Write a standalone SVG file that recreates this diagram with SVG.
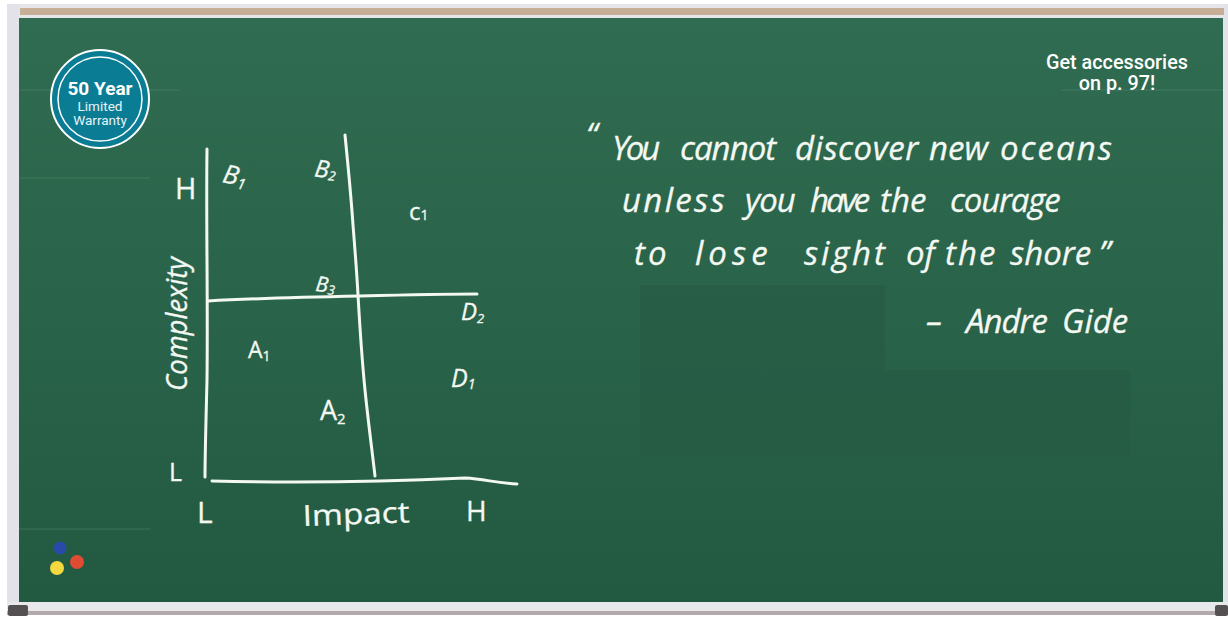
<svg xmlns="http://www.w3.org/2000/svg" width="1228" height="620" viewBox="0 0 1228 620">
<style>
.c{fill:none;stroke:#f4f8f2;stroke-width:3;stroke-linecap:round;stroke-linejoin:round}
.h{font-family:"Open Sans","Liberation Sans",sans-serif;fill:#f4f8f2;stroke:#f4f8f2;stroke-width:.3}
.q{font-size:33px;font-style:italic}
.b{font-family:Roboto,"Liberation Sans",sans-serif;text-anchor:middle}
.f{stroke:#5f8f78;stroke-width:1;opacity:.4}
</style>
<defs>
<linearGradient id="board" x1="0" y1="0" x2="0" y2="1">
<stop offset="0" stop-color="#306c51"/>
<stop offset="1" stop-color="#225a41"/>
</linearGradient>
</defs>
<rect width="1228" height="620" fill="#ffffff"/>
<g id="frame">
<rect x="7" y="4" width="1221" height="14" fill="#e6e5e9"/>
<rect x="7" y="4" width="12" height="604" fill="#e3e2e8"/>
<rect x="1223" y="4" width="5" height="604" fill="#e3e2e8"/>
<rect x="20" y="8" width="1204" height="7" fill="#c7af97"/>
<rect x="19" y="18" width="1204" height="584" fill="url(#board)"/>
<rect x="7" y="602" width="1221" height="9" fill="#e9e9ec"/>
<rect x="7" y="611" width="1221" height="4" fill="#b0aaac"/>
<rect x="8" y="605" width="20" height="11" rx="2" fill="#555052"/>
<rect x="1215" y="605" width="13" height="11" rx="2" fill="#555052"/>
</g>
<g id="patches">
<rect x="640" y="285" width="245" height="85" fill="#275a43" opacity=".55"/>
<rect x="640" y="370" width="490" height="85" fill="#275a43" opacity=".55"/>
<line class="f" x1="19" y1="90" x2="180" y2="90"/>
<line class="f" x1="1061" y1="90" x2="1223" y2="90"/>
<line class="f" x1="19" y1="178" x2="150" y2="178"/>
<line class="f" x1="19" y1="529" x2="150" y2="529"/>
</g>
<g id="badge">
<circle cx="100" cy="99" r="49" fill="#0a7d95" stroke="#ffffff" stroke-width="2"/>
<circle cx="100" cy="99" r="42" fill="none" stroke="#ffffff" stroke-width="1.5"/>
<text class="b" x="100" y="95" font-size="19" font-weight="700" fill="#ffffff">50 Year</text>
<text class="b" x="100" y="111" font-size="13.5" fill="#e8f3f5">Limited</text>
<text class="b" x="100" y="125" font-size="13.5" fill="#e8f3f5">Warranty</text>
</g>
<g id="accessories">
<text class="b" x="1117" y="69" font-size="19.8" font-weight="500" fill="#ffffff">Get accessories</text>
<text class="b" x="1117" y="90" font-size="19.8" font-weight="500" fill="#ffffff">on p. 97!</text>
</g>
<g id="connectors">
<path class="c" d="M207 149 C206 220 208 300 207 380 C206 420 205 455 205 477"/>
<path class="c" d="M345 135 C348 165 351 195 353 225 C355 250 357 275 358 295 C360 330 362 360 365 390 C368 420 372 450 375 476"/>
<path class="c" d="M208 301 C260 298 310 297 360 296 C400 295 440 294 477 294"/>
<path class="c" d="M212 481 C300 483 400 481 465 478 C485 479 495 483 517 484"/>
</g>
<g id="labels">
<text class="h" transform="rotate(12 222 180)" x="222" y="182" font-size="26" font-style="italic">B<tspan font-size="15" dy="3">1</tspan></text>
<text class="h" transform="rotate(8 313 175)" x="314" y="176" font-size="24" font-style="italic">B<tspan font-size="13" dy="2">2</tspan></text>
<text class="h" transform="rotate(6 315 291)" x="315" y="291" font-size="21" font-style="italic">B<tspan font-size="13" dy="2">3</tspan></text>
<text class="h" x="409" y="220" font-size="24">c<tspan font-size="14">1</tspan></text>
<text class="h" x="461" y="320" font-size="24" font-style="italic">D<tspan font-size="13" dy="3">2</tspan></text>
<text class="h" x="451" y="387" font-size="25" font-style="italic">D<tspan font-size="14" dy="2">1</tspan></text>
<text class="h" x="248" y="358" font-size="23">A<tspan font-size="14" dy="3">1</tspan></text>
<text class="h" x="320" y="420" font-size="27">A<tspan font-size="15" dy="4">2</tspan></text>
<text class="h" x="175" y="199" font-size="29">H</text>
<text class="h" x="169" y="481" font-size="25">L</text>
<text class="h" x="197" y="523" font-size="30">L</text>
<text class="h" x="466" y="521" font-size="28">H</text>
<text class="h" x="303" y="526" font-size="29" textLength="107" lengthAdjust="spacingAndGlyphs" transform="rotate(-2 303 526)">Impact</text>
<text class="h" transform="translate(187 391) rotate(-90)" font-size="29" font-style="italic" textLength="134" lengthAdjust="spacingAndGlyphs">Complexity</text>
</g>
<g id="quote">
<text class="h q"><tspan x="586" y="147">“</tspan><tspan x="612" y="160" letter-spacing="-3">You </tspan><tspan x="680" letter-spacing="-1">cannot </tspan><tspan x="795" letter-spacing=".5">discover </tspan><tspan x="929">new </tspan><tspan x="1000" letter-spacing="2">oceans</tspan></text>
<text class="h q" y="212"><tspan x="622" letter-spacing="2.3">unless </tspan><tspan x="745" letter-spacing="-1">you </tspan><tspan x="810" letter-spacing="-3">have </tspan><tspan x="880">the </tspan><tspan x="950" letter-spacing="-1.2">courage</tspan></text>
<text class="h q" y="265"><tspan x="634" letter-spacing="3">to </tspan><tspan x="695" letter-spacing="5">lose </tspan><tspan x="804" letter-spacing="2.8">sight </tspan><tspan x="906">of </tspan><tspan x="945" letter-spacing="2">the </tspan><tspan x="1010">shore</tspan><tspan x="1099">”</tspan></text>
<text class="h q" y="333"><tspan x="926">– </tspan><tspan x="966" letter-spacing="-1">Andre </tspan><tspan x="1062">Gide</tspan></text>
</g>
<g id="magnets">
<circle cx="60" cy="548" r="6.5" fill="#2a4aa8"/>
<circle cx="77" cy="562" r="7" fill="#df4c33"/>
<circle cx="57" cy="568" r="7" fill="#f4d83f"/>
</g>
</svg>
